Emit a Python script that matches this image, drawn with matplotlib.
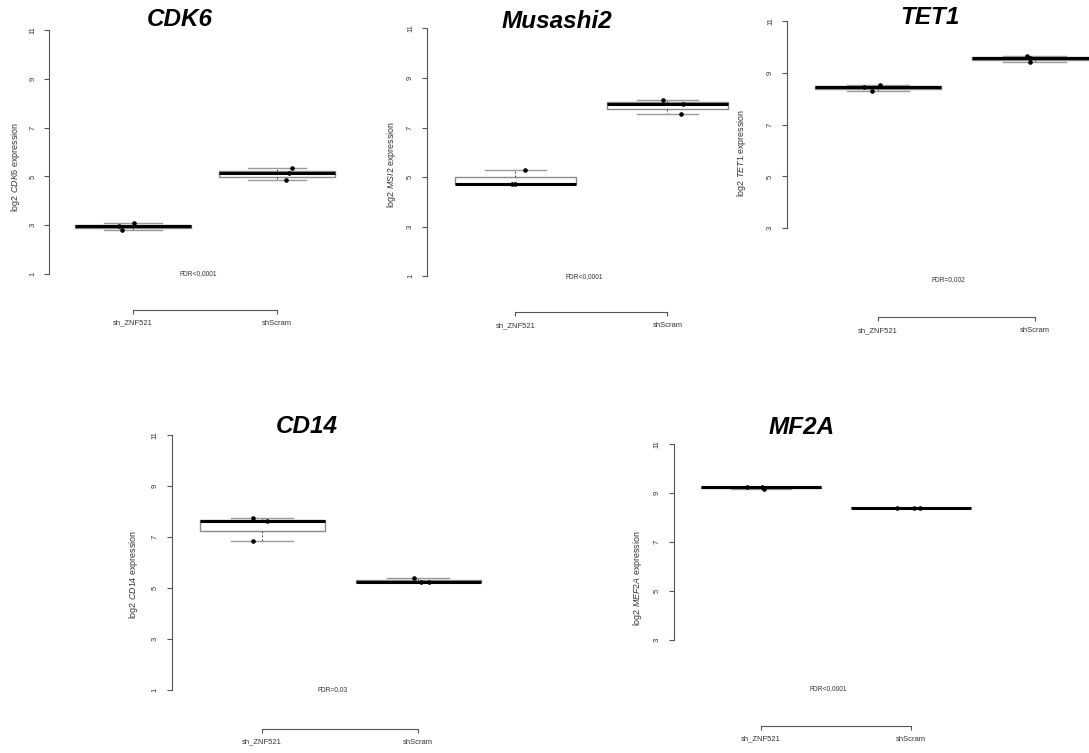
import matplotlib
matplotlib.use("Agg")
import matplotlib.pyplot as plt
import numpy as np

plt.rcParams['font.family'] = ['Liberation Sans', 'DejaVu Sans']
plt.rcParams['mathtext.fontset'] = 'custom'
plt.rcParams['mathtext.rm'] = 'Liberation Sans'
plt.rcParams['mathtext.it'] = 'Liberation Sans:italic'

# data
genes = ["CDK6", "Musashi2", "TET1", "CD14", "MF2A"]
ylab_genes = ["CDK6", "MSI2", "TET1", "CD14", "MEF2A"]
groups = ["sh_ZNF521", "shScram"]
fdr_text = ["FDR<0,0001", "FDR<0,0001", "FDR=0,002", "FDR=0,03", "FDR<0,0001"]
ytick_lo = [1, 1, 3, 1, 3]

cdk6_sh = [2.79, 2.95, 3.10]
cdk6_scr = [4.84, 5.15, 5.33]
msi2_sh = [4.73, 4.74, 5.30]
msi2_scr = [7.56, 7.95, 8.11]
tet1_sh = [8.31, 8.45, 8.52]
tet1_scr = [9.40, 9.58, 9.66]
cd14_sh = [6.85, 7.61, 7.75]
cd14_scr = [5.22, 5.23, 5.39]
mef2a_sh = [9.17, 9.23, 9.25]
mef2a_scr = [8.38, 8.39, 8.40]

# horizontal jitter of the dots (same order as the values)
cdk6_jit = [[-0.074, -0.097, 0.01], [0.06, 0.08, 0.105]]
msi2_jit = [[-0.02, 0.0, 0.06], [0.09, 0.10, -0.03]]
tet1_jit = [[-0.04, -0.09, 0.01], [-0.03, -0.03, -0.05]]
cd14_jit = [[-0.06, 0.03, -0.06], [0.02, 0.07, -0.03]]
mef2a_jit = [[0.02, 0.01, -0.09], [0.06, 0.02, -0.09]]

values = [[cdk6_sh, cdk6_scr], [msi2_sh, msi2_scr], [tet1_sh, tet1_scr],
          [cd14_sh, cd14_scr], [mef2a_sh, mef2a_scr]]
jitter = [cdk6_jit, msi2_jit, tet1_jit, cd14_jit, mef2a_jit]

# panel layout in pixels: x of group 1, px per x unit, y of value 11, px per y unit,
# bracket y, ylabel (x, y), title (x, y)
W, H = 1089, 753
layout = [
    dict(p1=133.0, ux=144.0, y11=30.0, uy=24.4, by=310.0, yl=(16, 167), tt=(180, 19)),
    dict(p1=515.4, ux=152.0, y11=28.3, uy=24.8, by=312.3, yl=(391, 165), tt=(557, 21)),
    dict(p1=878.0, ux=156.5, y11=21.0, uy=25.9, by=317.3, yl=(741, 153), tt=(930, 18)),
    dict(p1=262.2, ux=156.0, y11=435.0, uy=25.5, by=729.0, yl=(133, 575), tt=(307, 426)),
    dict(p1=760.7, ux=150.0, y11=444.0, uy=24.5, by=726.0, yl=(637, 578), tt=(802, 427)),
]

fig = plt.figure(figsize=(W / 100, H / 100), dpi=100)
txt_col = '#333333'
ax_col = '#555555'

for i, gene in enumerate(genes):
    L = layout[i]
    left = L['p1'] - 0.58 * L['ux']
    right = L['p1'] + 1.58 * L['ux']
    top = L['y11'] - 0.4 * L['uy']
    bot = L['by']
    ax = fig.add_axes([left / W, 1 - bot / H, (right - left) / W, (bot - top) / H])
    ax.set_xlim(0.42, 2.58)
    ax.set_ylim(11 - (bot - L['y11']) / L['uy'], 11.4)
    ax.patch.set_alpha(0)

    ax.boxplot(values[i], positions=[1, 2], widths=0.8, whis=(0, 100),
               showfliers=False, patch_artist=True,
               boxprops=dict(facecolor='white', edgecolor='#8a8a8a', linewidth=1.0),
               medianprops=dict(color='black', linewidth=2.2),
               whiskerprops=dict(color='#444444', linewidth=0.7, linestyle=(0, (2, 2))),
               capprops=dict(color='#9a9a9a', linewidth=1.0))

    for g in range(2):
        xs = np.array([1, 2][g]) + np.array(jitter[i][g])
        ax.plot(xs, values[i][g], 'o', color='black', markersize=2.3, zorder=5)

    ax.text(1.45, 1, fdr_text[i], ha='center', va='center', fontsize=4.8, color=txt_col)

    for s in ['top', 'right']:
        ax.spines[s].set_visible(False)
    ax.spines['left'].set_bounds(ytick_lo[i], 11)
    ax.spines['bottom'].set_bounds(1, 2)
    for s in ['left', 'bottom']:
        ax.spines[s].set_color(ax_col)
        ax.spines[s].set_linewidth(0.8)

    ax.set_yticks(np.arange(ytick_lo[i], 12, 2))
    ax.set_xticks([1, 2])
    ax.set_xticklabels(groups)
    ax.tick_params(axis='y', length=3.5, width=0.8, color=ax_col, labelsize=5.5,
                   labelcolor=txt_col, pad=6, labelrotation=90)
    ax.tick_params(axis='x', length=3, width=0.8, color=ax_col, labelsize=5.5,
                   labelcolor=txt_col, pad=4)
    for lab in ax.get_yticklabels():
        lab.set_va('center')

    fig.text(L['yl'][0] / W, 1 - L['yl'][1] / H,
             "log2 $\\mathit{" + ylab_genes[i] + "}$ expression",
             rotation=90, ha='center', va='center', fontsize=6.4, color=txt_col)
    fig.text(L['tt'][0] / W, 1 - L['tt'][1] / H, gene, ha='center', va='center',
             fontsize=17.5, fontweight='bold', fontstyle='italic', color='black')

fig.savefig('out.png', dpi=100, facecolor='white')
